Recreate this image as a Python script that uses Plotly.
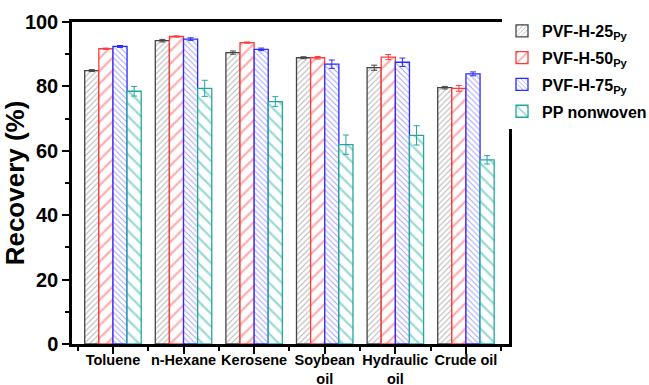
import plotly.graph_objects as go

categories = ["Toluene", "n-Hexane", "Kerosene", "Soybean<br>oil", "Hydraulic<br>oil", "Crude oil"]
series_names = ["PVF-H-25<sub>Py</sub>", "PVF-H-50<sub>Py</sub>", "PVF-H-75<sub>Py</sub>", "PP nonwoven"]
pvf25 = [84.9, 94.2, 90.5, 88.9, 85.8, 79.6]
pvf50 = [91.7, 95.5, 93.6, 88.9, 89.1, 79.4]
pvf75 = [92.4, 94.7, 91.5, 86.9, 87.5, 83.9]
pp = [78.5, 79.4, 75.3, 61.9, 64.8, 57.2]
err25 = [0.3, 0.4, 0.5, 0.3, 0.8, 0.4]
err50 = [0.2, 0.2, 0.2, 0.4, 0.8, 0.9]
err75 = [0.3, 0.4, 0.4, 1.3, 1.3, 0.6]
errpp = [1.5, 2.5, 1.5, 3.0, 3.0, 1.3]
y_ticks = [0, 20, 40, 60, 80, 100]

values = [pvf25, pvf50, pvf75, pp]
errors = [err25, err50, err75, errpp]
line_colors = ["#444444", "#FF3B3B", "#2B2BFF", "#20A89E"]
pat_colors = ["#666666", "#FF5A5A", "#4444FF", "#33B3A8"]
shapes = ["/", "/", "\\", "\\"]
sizes = [4, 9, 4, 9]

x_idx = list(range(len(categories)))
fig = go.Figure()
for i, (name, v, e, lc, pc, sh, sz) in enumerate(zip(series_names, values, errors, line_colors, pat_colors, shapes, sizes)):
    fig.add_trace(go.Bar(
        x=x_idx, y=v, name=name, legendgroup="g%d" % i,
        marker=dict(color="white", line=dict(color=lc, width=1.3),
                    pattern=dict(shape=sh, fgcolor=pc, bgcolor="white", size=sz, solidity=0.25, fillmode="overlay")),
        error_y=dict(type="data", array=e, visible=True, color=lc, thickness=1, width=3),
    ))

fig.update_layout(
    width=649, height=385,
    margin=dict(l=72, r=140, t=22, b=41, autoexpand=False),
    plot_bgcolor="white", paper_bgcolor="white",
    barmode="group", bargap=0.2, bargroupgap=0,
    font=dict(family="Liberation Sans, Arial, sans-serif", color="black"),
    legend=dict(x=0.984, y=1.025, xanchor="left", yanchor="top",
                font=dict(size=16, family="Liberation Sans, Arial, sans-serif", weight="bold"),
                tracegroupgap=3, itemwidth=30),
    showlegend=True,
)
fig.update_xaxes(
    range=[-0.58, 5.61], tickvals=x_idx, ticktext=["<b>%s</b>" % c for c in categories],
    tickfont=dict(size=14.5), tickangle=0, automargin=False, ticklabelstandoff=-6,
    ticks="outside", ticklen=7, tickwidth=2, tickcolor="black",
    minor=dict(tick0=0.5, dtick=1, ticks="outside", ticklen=4, tickwidth=2, tickcolor="black"),
    showline=True, linewidth=2.5, linecolor="black", mirror=True, showgrid=False, zeroline=False,
)
fig.update_yaxes(
    range=[0, 100], tickvals=y_ticks, ticktext=["<b>%d</b>" % t for t in y_ticks],
    tickfont=dict(size=20), automargin=False,
    ticks="outside", ticklen=7, tickwidth=2, tickcolor="black",
    minor=dict(dtick=10, ticks="outside", ticklen=4, tickwidth=2, tickcolor="black"),
    showline=True, linewidth=2.5, linecolor="black", mirror=True, showgrid=False, zeroline=False,
    title=dict(text="<b>Recovery (%)</b>", font=dict(size=26), standoff=4),
)
fig.write_html("out.html")
